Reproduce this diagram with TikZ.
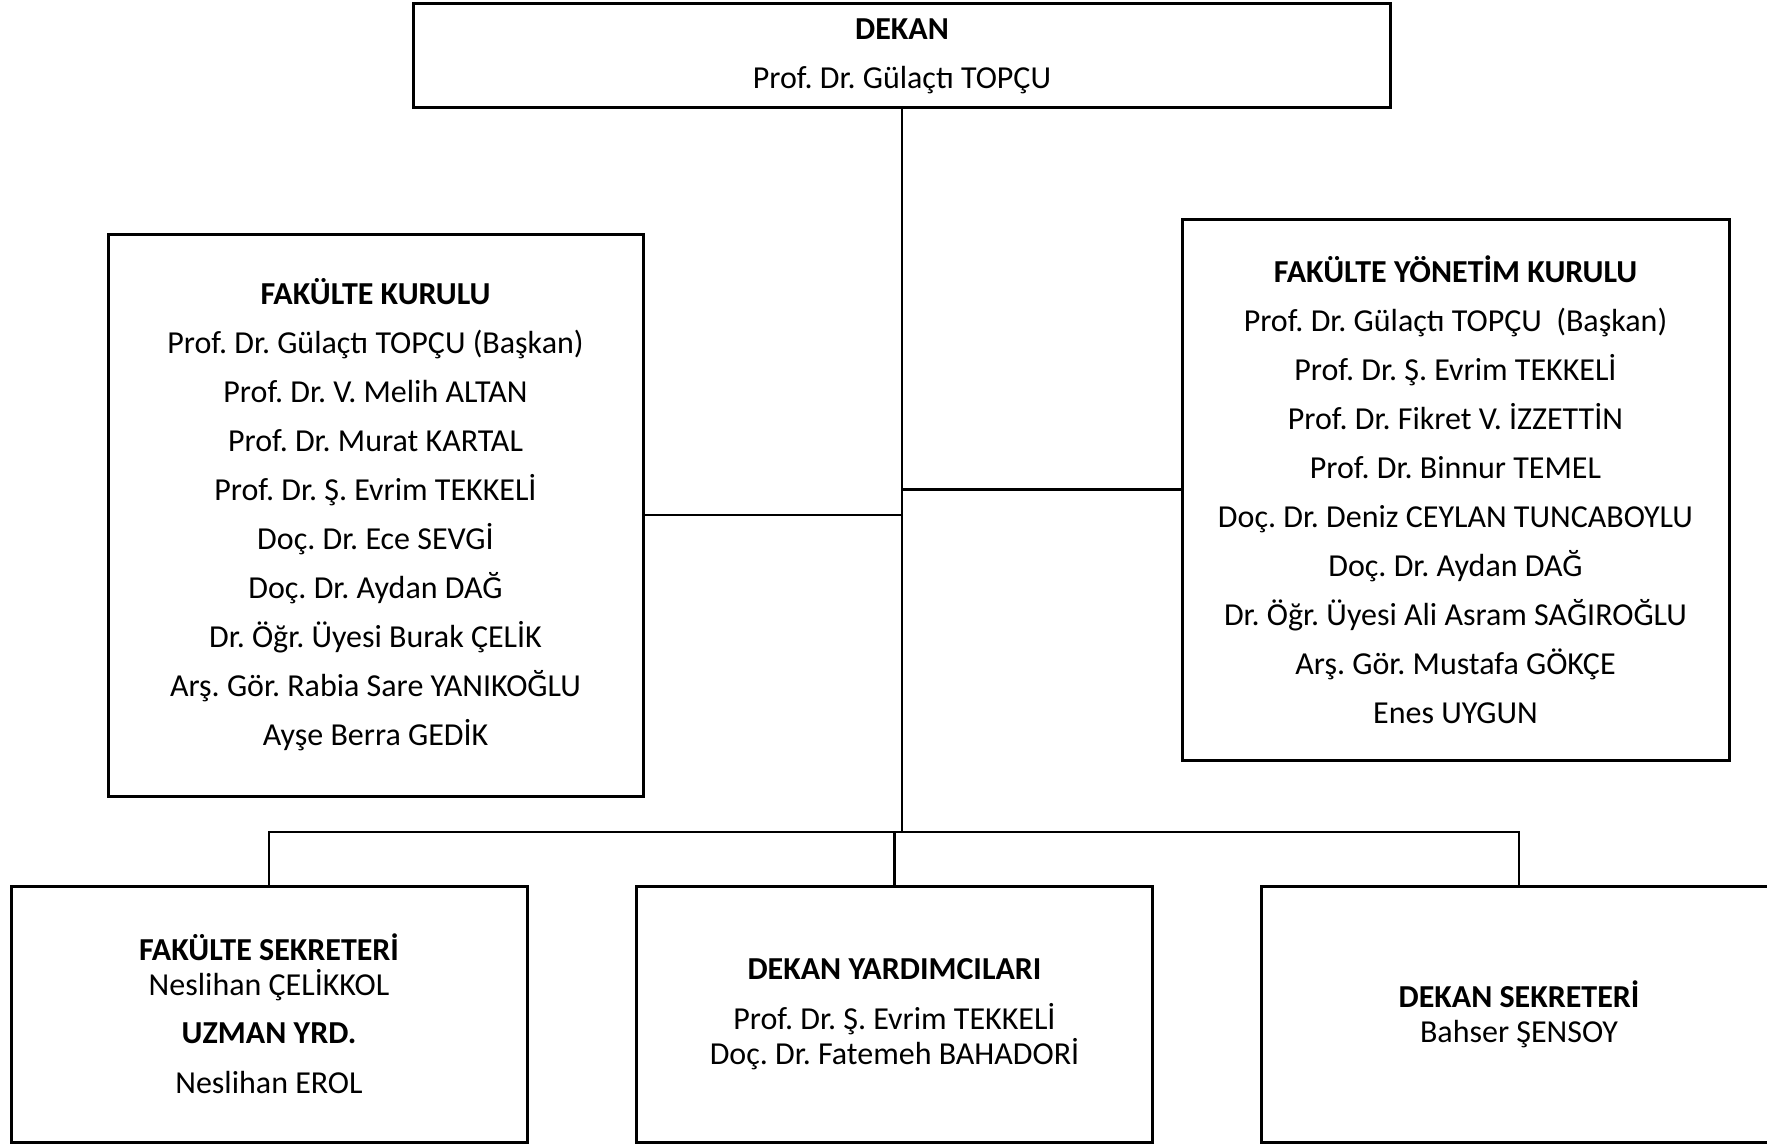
\documentclass[tikz,border=0pt]{standalone}
\usepackage{fontspec}
\setmainfont{Carlito}
\usetikzlibrary{positioning, calc}
\frenchspacing
\newcommand{\boxfont}{\fontsize{16}{24.5}\selectfont}
\newcommand{\smallskipfont}{\fontsize{16}{17.5}\selectfont}

\begin{document}
\begin{tikzpicture}[x=0.5pt, y=-0.5pt, line cap=rect,
                unitbox/.style={draw, line width=1.5pt, align=center, inner sep=0pt, font=\boxfont},
                lowbox/.style={unitbox, font=\smallskipfont, minimum width=258pt, minimum height=128pt},
                link/.style={line width=1.2pt}]

                \useasboundingbox (0,0) rectangle (1767,1145);

                \node[unitbox, minimum width=488.5pt, minimum height=52pt] (dekan) at (902,56)
                    {\textbf{DEKAN}\\Prof. Dr. Gülaçtı TOPÇU};

                \node[unitbox, minimum width=267.5pt, minimum height=281pt] (kurul) at (375.5,515)
                    {\textbf{FAKÜLTE KURULU}\\
                     Prof. Dr. Gülaçtı TOPÇU (Başkan)\\
                     Prof. Dr. V. Melih ALTAN\\
                     Prof. Dr. Murat KARTAL\\
                     Prof. Dr. Ş. Evrim TEKKELİ\\
                     Doç. Dr. Ece SEVGİ\\
                     Doç. Dr. Aydan DAĞ\\
                     Dr. Öğr. Üyesi Burak ÇELİK\\
                     Arş. Gör. Rabia Sare YANIKOĞLU\\
                     Ayşe Berra GEDİK};

                \node[unitbox, minimum width=273.5pt, minimum height=270.5pt] (yonetim) at (1455.5,489.5)
                    {\textbf{FAKÜLTE YÖNETİM KURULU}\\
                     Prof. Dr. Gülaçtı TOPÇU~ (Başkan)\\
                     Prof. Dr. Ş. Evrim TEKKELİ\\
                     Prof. Dr. Fikret V. İZZETTİN\\
                     Prof. Dr. Binnur TEMEL\\
                     Doç. Dr. Deniz CEYLAN TUNCABOYLU\\
                     Doç. Dr. Aydan DAĞ\\
                     Dr. Öğr. Üyesi Ali Asram SAĞIROĞLU\\
                     Arş. Gör. Mustafa GÖKÇE\\
                     Enes UYGUN};

                \node[lowbox] (fsekreter) at (269,1014)
                    {\textbf{FAKÜLTE SEKRETERİ}\\
                     Neslihan ÇELİKKOL\\[6.5pt]
                     \textbf{UZMAN YRD.}\\[7.5pt]
                     Neslihan EROL};
                \node[lowbox] (yardimci) at (894.5,1014)
                    {\textbf{DEKAN YARDIMCILARI}\\[7.5pt]
                     Prof. Dr. Ş. Evrim TEKKELİ\\
                     Doç. Dr. Fatemeh BAHADORİ};
                \node[lowbox] (dsekreter) at (1519,1014)
                    {\textbf{DEKAN SEKRETERİ}\\
                     Bahser ŞENSOY};

                \coordinate (bus) at (902,832);
                \draw[link] (dekan.south) -- (bus);
                \draw[link] (kurul.east) -- (kurul.east -| bus);
                \draw[link] (yonetim.west) -- (yonetim.west -| bus);
                \draw[link] (fsekreter.north) |- (dsekreter.north |- bus) -- (dsekreter.north);
                \draw[link] (yardimci.north) -- (yardimci.north |- bus);
            \end{tikzpicture}
\end{document}
